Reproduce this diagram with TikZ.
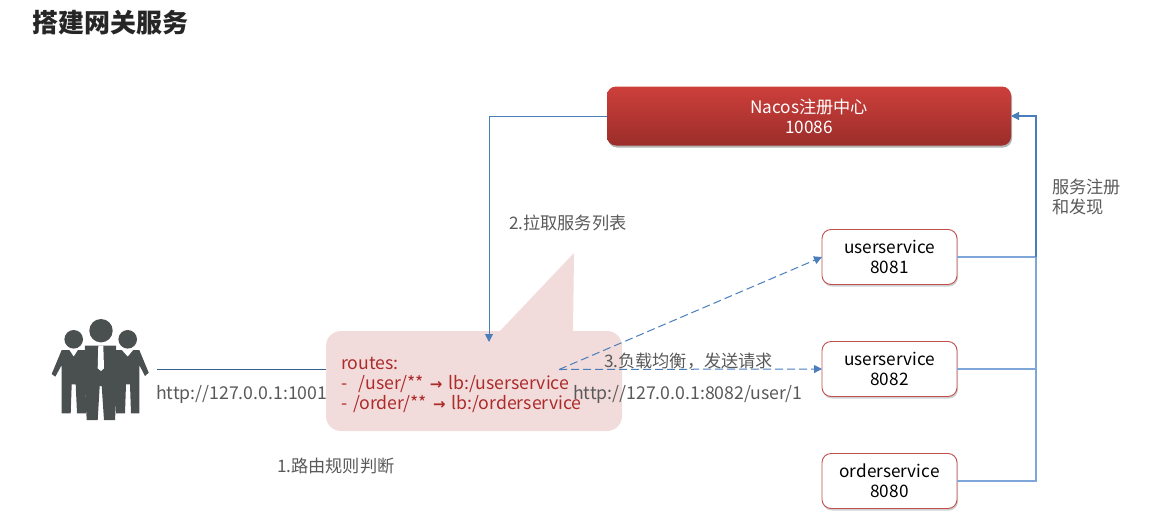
\documentclass[tikz,border=0pt]{standalone}
\usepackage{fontspec}
\setmainfont{Noto Sans CJK SC}
\newfontfamily\arrowfont{DejaVu Sans}
\usetikzlibrary{arrows.meta,shadows}
\definecolor{linkblue}{HTML}{4A7EBB}
\definecolor{lightlink}{HTML}{7FA6D8}
\definecolor{greytext}{HTML}{595959}
\definecolor{bubblefill}{HTML}{F2DCDB}
\definecolor{redtext}{HTML}{AC2B2B}
\definecolor{redline}{HTML}{C0504D}
\definecolor{peoplecol}{HTML}{4A5050}
\definecolor{nacosTop}{HTML}{CD3F3B}
\definecolor{nacosBot}{HTML}{9B2D2A}
\tikzset{
  x=1pt,y=-1pt,
  every node/.style={font=\fontsize{17.2}{20}\selectfont,inner sep=0pt,outer sep=0pt},
  link/.style={draw=linkblue,line width=1pt},
  lightl/.style={draw=lightlink,line width=1.5pt},
  tipped/.style={-{Triangle[length=8pt,width=8pt]}},
  dashedlink/.style={link,dash pattern=on 8pt off 4pt,tipped},
  label/.style={text=greytext,anchor=west,align=left},
  wide/.style={font=\fontsize{17.7}{20}\selectfont},
  service/.style={draw=redline,line width=0.9pt,fill=white,rounded corners=9pt,minimum width=135pt,minimum height=55pt,align=center,text=black,
    drop shadow={shadow xshift=1pt,shadow yshift=-2pt,opacity=0.18,fill=black}},
  registry/.style={rounded corners=9pt,minimum width=404pt,minimum height=59pt,align=center,text=white,top color=nacosTop,bottom color=nacosBot,
    drop shadow={shadow xshift=1pt,shadow yshift=-2pt,opacity=0.3,fill=black}},
  bubble/.style={fill=bubblefill,rounded corners=15pt,minimum width=296pt,minimum height=100pt,text width=266pt,inner xsep=15pt,align=left,text=redtext,wide},
  person/.style={fill=peoplecol,draw=none}
}
\begin{document}
\begin{tikzpicture}
\useasboundingbox (0,0) rectangle (1167,525);
% title
\node[anchor=west,font=\fontsize{26}{30}\selectfont\bfseries,text=black!85] (title) at (32,23) {搭建网关服务};
% people icon
\fill[person] (73.7,339.3) circle (9.3);
\fill[person] (127.7,339.3) circle (9.3);
\fill[person] (61.7,350) -- (51.7,374) -- (55.3,376.7) -- (61.7,365) -- (61.7,413.3) -- (70.7,413.3) -- (71.7,384.3) -- (75.7,384.3) -- (77,413.3) -- (86,413.3) -- (85,350) -- (78,350) -- (73.7,356.7) -- (69.3,350) -- cycle;
\fill[person] (116,350) -- (116,413.3) -- (125,413.3) -- (126,384.3) -- (130,384.3) -- (131,413.3) -- (139.3,413.3) -- (139.3,365) -- (145,376) -- (148.7,372.7) -- (139.3,350) -- (133.3,350) -- (127.7,356.7) -- (121.7,350) -- cycle;
\fill[person] (101,330.7) circle (11.7);
\fill[person] (85,345.7) -- (116,345.7) -- (117.3,378) -- (115,420) -- (104,420) -- (101.7,386) -- (99.7,386) -- (97.7,420) -- (86.7,420) -- (84.3,378) -- cycle;
\fill[white] (98.3,345.7) -- (103.3,345.7) -- (104,368.3) -- (101,371) -- (97.7,368.3) -- cycle;
% client label lies beneath the bubble
\node[label,wide] (clienturl) at (156,394) {http://127.0.0.1:1001};
% gateway bubble
\coordinate (tailA) at (499,332);
\coordinate (tailB) at (574,253);
\coordinate (tailC) at (573,332);
\fill[bubblefill] (tailA) -- (tailB) -- (tailC) -- cycle;
\node[bubble] (gateway) at (474,381) {\rule{0pt}{21pt}routes:\\-\ \ /user/** {\arrowfont\bfseries\fontsize{15}{20}\selectfont →} lb:/userservice\\- /order/** {\arrowfont\bfseries\fontsize{15}{20}\selectfont →} lb:/orderservice};
% boxes
\node[registry] (nacos) at (809,116) {Nacos注册中心\\10086};
\node[service] (us1) at (889.5,257) {userservice\\8081};
\node[service] (us2) at (889.5,369) {userservice\\8082};
\node[service] (os) at (889.5,481) {orderservice\\8080};
% connector points
\coordinate (client) at (157,369.5);
\coordinate (gwIn) at (489,342);
\coordinate (lb) at (559,369.5);
\coordinate (bus) at (1036,116);
% connectors
\draw[draw=linkblue!75!black,line width=0.8pt] (client) -- (client -| gateway.west);
\draw[link,tipped] (nacos.west) -| (gwIn);
\draw[dashedlink] (lb) -- (us1.west);
\draw[dashedlink] (lb) -- (us2.west);
\draw[lightl] (us1.east) -| (bus);
\draw[lightl] (us2.east) -| (bus);
\draw[lightl] (os.east) -| (bus);
\draw[link,line width=1.2pt,tipped] (1036,257) |- (nacos.east);
% labels
\node[label] (pull) at (509,223) {2.拉取服务列表};
\node[label] (reg) at (1052,196.5) {服务注册\\和发现};
\node[label] (route) at (277,466) {1.路由规则判断};
\node[label] (lbl) at (604,361) {3.负载均衡，发送请求};
\node[label,wide] (url) at (573,394) {http://127.0.0.1:8082/user/1};
\end{tikzpicture}
\end{document}
